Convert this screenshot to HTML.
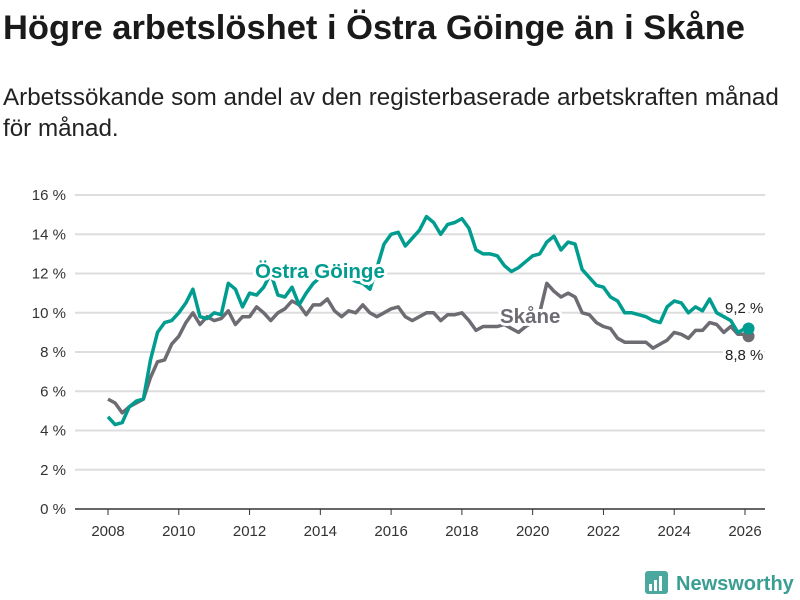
<!DOCTYPE html>
<html><head><meta charset="utf-8"><style>
body{margin:0;background:#fff;width:800px;height:600px;overflow:hidden;font-family:"Liberation Sans",sans-serif}
#title{position:absolute;left:3px;top:9px;font-size:34.5px;font-weight:bold;color:#1a1a1a;margin:0;white-space:nowrap}
#sub{position:absolute;left:3px;top:82px;font-size:24.2px;color:#222;line-height:31px;width:798px;white-space:nowrap}
svg{position:absolute;left:0;top:0}
</style></head><body>
<h1 id="title">Högre arbetslöshet i Östra Göinge än i Skåne</h1>
<div id="sub">Arbetssökande som andel av den registerbaserade arbetskraften månad<br>för månad.</div>
<svg id="chart" width="800" height="600"></svg>
<script>
const years=[2008,2008.2,2008.4,2008.6,2008.8,2009,2009.2,2009.4,2009.6,2009.8,2010,2010.2,2010.4,2010.6,2010.8,2011,2011.2,2011.4,2011.6,2011.8,2012,2012.2,2012.4,2012.6,2012.8,2013,2013.2,2013.4,2013.6,2013.8,2014,2014.2,2014.4,2014.6,2014.8,2015,2015.2,2015.4,2015.6,2015.8,2016,2016.2,2016.4,2016.6,2016.8,2017,2017.2,2017.4,2017.6,2017.8,2018,2018.2,2018.4,2018.6,2018.8,2019,2019.2,2019.4,2019.6,2019.8,2020,2020.2,2020.4,2020.6,2020.8,2021,2021.2,2021.4,2021.6,2021.8,2022,2022.2,2022.4,2022.6,2022.8,2023,2023.2,2023.4,2023.6,2023.8,2024,2024.2,2024.4,2024.6,2024.8,2025,2025.2,2025.4,2025.6,2025.8,2026,2026.1];
const goinge=[4.7,4.3,4.4,5.2,5.5,5.6,7.6,9.0,9.5,9.6,10.0,10.5,11.2,9.8,9.7,10.0,9.9,11.5,11.2,10.3,11.0,10.9,11.3,12.0,10.9,10.8,11.3,10.4,11.0,11.5,11.8,12.2,12.1,12.0,11.8,11.6,11.5,11.2,12.3,13.5,14.0,14.1,13.4,13.8,14.2,14.9,14.6,14.0,14.5,14.6,14.8,14.3,13.2,13.0,13.0,12.9,12.4,12.1,12.3,12.6,12.9,13.0,13.6,13.9,13.2,13.6,13.5,12.2,11.8,11.4,11.3,10.8,10.6,10.0,10.0,9.9,9.8,9.6,9.5,10.3,10.6,10.5,10.0,10.3,10.1,10.7,10.0,9.8,9.6,9.0,9.2,9.2];
const skane=[5.6,5.4,4.9,5.2,5.4,5.6,6.7,7.5,7.6,8.4,8.8,9.5,10.0,9.4,9.8,9.6,9.7,10.1,9.4,9.8,9.8,10.3,10.0,9.6,10.0,10.2,10.6,10.4,9.9,10.4,10.4,10.7,10.1,9.8,10.1,10.0,10.4,10.0,9.8,10.0,10.2,10.3,9.8,9.6,9.8,10.0,10.0,9.6,9.9,9.9,10.0,9.6,9.1,9.3,9.3,9.3,9.4,9.2,9.0,9.3,9.5,10.0,11.5,11.1,10.8,11.0,10.8,10.0,9.9,9.5,9.3,9.2,8.7,8.5,8.5,8.5,8.5,8.2,8.4,8.6,9.0,8.9,8.7,9.1,9.1,9.5,9.4,9.0,9.3,8.9,8.9,8.8];
const yTicks=[0,2,4,6,8,10,12,14,16];
const xTicks=[2008,2010,2012,2014,2016,2018,2020,2022,2024,2026];
const X=v=>108+(v-2008)*(745-108)/18;
const Y=v=>509-v*(509-195)/16;
const svg=document.getElementById('chart');
const NS='http://www.w3.org/2000/svg';
function mk(t,a,txt){const e=document.createElementNS(NS,t);for(const k in a)e.setAttribute(k,a[k]);if(txt!=null)e.textContent=txt;svg.appendChild(e);return e;}
yTicks.forEach(v=>{
 const g=mk('line',{x1:75,x2:765,y1:Y(v),y2:Y(v),stroke:v===0?'#333':'#ddd','stroke-width':v===0?1.5:2});
 
 
 const t=mk('text',{x:66,y:Y(v)+5,'text-anchor':'end','font-size':15,fill:'#333'},v+' %');
 
 
});
xTicks.forEach(v=>{
 const l=mk('line',{x1:X(v),x2:X(v),y1:509,y2:515,stroke:'#333','stroke-width':1});
 
 
 const t=mk('text',{x:X(v),y:536,'text-anchor':'middle','font-size':15,fill:'#333'},String(v));
 
 
});
function line(vals,col,name){
 const d=vals.map((v,i)=>(i?'L':'M')+X(years[i]).toFixed(1)+','+Y(v).toFixed(1)).join('');
 const p=mk('path',{d:d,fill:'none',stroke:col,'stroke-width':3.5,'stroke-linejoin':'round'});
 
 
 const n=vals.length-1;
 const c=mk('circle',{cx:X(years[n]),cy:Y(vals[n]),r:6,fill:col});
 
 
}
line(skane,'#6e6c72','skane');
line(goinge,'#009c8f','goinge');
function lab(x,y,txt,col,size,bold,name){
 const t=mk('text',{x:x,y:y,'font-size':size,'font-weight':bold?'bold':'normal',fill:col,stroke:'#fff','stroke-width':6,'paint-order':'stroke','stroke-linejoin':'round'},txt);
 
 
}
lab(255,278,'Östra Göinge','#009c8f',20.5,true,'goinge-series-label');
lab(500,323,'Skåne','#6e6c72',20.5,true,'skane-series-label');
lab(725,313,'9,2 %','#222',15,false,'goinge-end-value');
lab(725,360,'8,8 %','#222',15,false,'skane-end-value');
</script>
<svg width="800" height="600" style="pointer-events:none">
<rect x="645" y="571" width="23" height="23" rx="3" fill="#4aa89e"/>
<rect x="649" y="584" width="3" height="7" fill="#fff"/><rect x="654" y="580" width="3" height="11" fill="#fff"/><rect x="659" y="576" width="3" height="15" fill="#fff"/>
<text x="676" y="590" font-size="20" font-weight="bold" fill="#3a9e93" font-family="Liberation Sans, sans-serif">Newsworthy</text>
</svg>
</body></html>
